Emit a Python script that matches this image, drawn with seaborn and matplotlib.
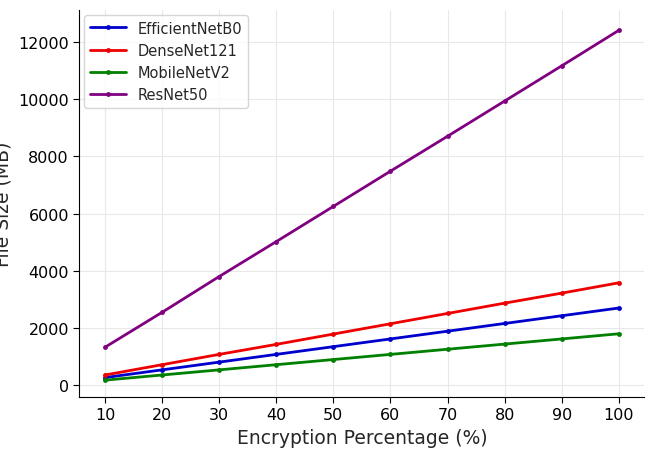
import matplotlib
matplotlib.use("Agg")
import matplotlib.pyplot as plt
import seaborn as sns
import pandas as pd

pct = [10, 20, 30, 40, 50, 60, 70, 80, 90, 100]
efficientnet = [270, 540, 810, 1080, 1350, 1620, 1890, 2160, 2430, 2700]
densenet = [360, 720, 1080, 1430, 1790, 2150, 2510, 2870, 3220, 3580]
mobilenet = [180, 360, 540, 720, 900, 1080, 1260, 1440, 1620, 1800]
resnet = [1330, 2550, 3800, 5020, 6250, 7480, 8700, 9930, 11160, 12400]

names = ["EfficientNetB0", "DenseNet121", "MobileNetV2", "ResNet50"]
vals = [efficientnet, densenet, mobilenet, resnet]
colors = ["#0000cc", "#ee0000", "#008000", "#800080"]

rows = []
for n, v in zip(names, vals):
    for p, y in zip(pct, v):
        rows.append({"pct": p, "size": y, "model": n})
df = pd.DataFrame(rows)

sns.set_style("whitegrid")
fig, ax = plt.subplots(figsize=(6.61, 4.52), dpi=100)
sns.lineplot(data=df, x="pct", y="size", hue="model", hue_order=names,
             palette=colors, marker="o", markersize=3.5, markeredgewidth=0,
             linewidth=2, ax=ax)
ax.grid(True, color="#e8e8e8", linewidth=0.8)
for s in ["top", "right"]:
    ax.spines[s].set_visible(False)
for s in ["left", "bottom"]:
    ax.spines[s].set_color("black")
    ax.spines[s].set_linewidth(0.8)
ax.set_xticks(pct)
ax.tick_params(axis="both", labelsize=11.5, colors="black", direction="out", length=4, left=True, bottom=True)
ax.set_xlabel("Encryption Percentage (%)", fontsize=13.5)
ax.set_ylabel("File Size (MB)", fontsize=13.5)
ax.set_ylim(-400, 13100)
ax.set_xlim(5.5, 104.5)
ax.legend(title=None, fontsize=10.5, loc="upper left", frameon=True,
          borderaxespad=0.3, handlelength=2.5)
plt.tight_layout()
fig.subplots_adjust(left=0.12, right=0.975, top=0.975, bottom=0.12)
fig.savefig("out.png", dpi=100)
